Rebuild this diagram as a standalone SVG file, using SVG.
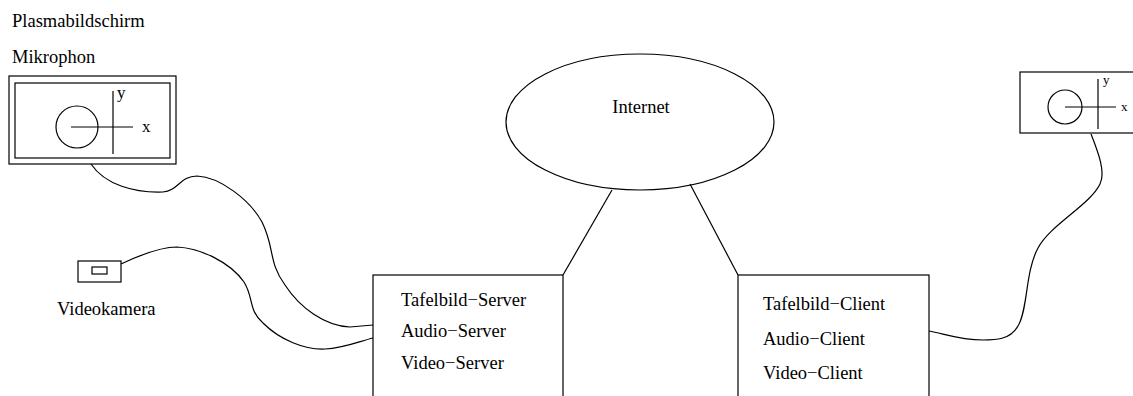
<svg xmlns="http://www.w3.org/2000/svg" width="1133" height="396" viewBox="0 0 1133 396">
<style>
.s{fill:none;stroke:#000;stroke-width:1.2}
.t{font-family:"Liberation Serif",serif;font-size:18.5px;fill:#000}
.sm{font-family:"Liberation Serif",serif;font-size:17px;fill:#000}
.xs{font-family:"Liberation Serif",serif;font-size:13px;fill:#000}
</style>
<rect width="1133" height="396" fill="#fff"/>
<g id="labels-top">
<text class="t" x="12" y="27">Plasmabildschirm</text>
<text class="t" x="12" y="63">Mikrophon</text>
</g>
<g id="monitor-left">
<rect class="s" x="9" y="76" width="167" height="88"/>
<rect class="s" x="15" y="83" width="155" height="75"/>
<circle class="s" cx="77" cy="127" r="21"/>
<line class="s" x1="71" y1="127" x2="133" y2="127"/>
<line class="s" x1="113" y1="91" x2="113" y2="154"/>
<text class="sm" x="117" y="98">y</text>
<text class="sm" x="142" y="132">x</text>
</g>
<g id="camera">
<rect class="s" x="78" y="261" width="43" height="21"/>
<rect class="s" x="92" y="267" width="15" height="7"/>
<text class="t" x="57" y="315">Videokamera</text>
</g>
<g id="internet">
<ellipse class="s" cx="640" cy="122" rx="134" ry="68"/>
<text class="t" x="641" y="113" text-anchor="middle">Internet</text>
</g>
<g id="server">
<rect class="s" x="373" y="275" width="190" height="130"/>
<text class="t" x="401" y="306">Tafelbild−Server</text>
<text class="t" x="401" y="337">Audio−Server</text>
<text class="t" x="401" y="369">Video−Server</text>
</g>
<g id="client">
<rect class="s" x="738" y="275" width="191" height="130"/>
<text class="t" x="763" y="310">Tafelbild−Client</text>
<text class="t" x="763" y="345">Audio−Client</text>
<text class="t" x="763" y="379">Video−Client</text>
</g>
<g id="monitor-right">
<rect class="s" x="1020" y="72" width="115" height="61"/>
<circle class="s" cx="1065" cy="107" r="17"/>
<line class="s" x1="1065" y1="107" x2="1116" y2="107"/>
<line class="s" x1="1098" y1="79" x2="1098" y2="129"/>
<text class="xs" x="1103" y="84">y</text>
<text class="xs" x="1121" y="111">x</text>
</g>
<g id="connectors">
<line class="s" x1="563" y1="275" x2="612" y2="190"/>
<line class="s" x1="690" y1="184" x2="738" y2="275"/>
<path class="s" d="M91,164 C105,185 135,193 163,192 C178,191 180,176 197,176 C220,177 250,200 262,222 C275,248 268,262 285,285 C300,308 325,326 350,327 L373,325"/>
<path class="s" d="M121,264 C140,255 160,247 177,247 C200,248 230,262 244,282 C254,298 248,310 263,323 C280,340 305,350 325,349 C345,348 360,341 373,338"/>
<path class="s" d="M1091,134 C1098,152 1106,172 1100,184 C1090,205 1050,225 1038,248 C1025,272 1028,310 1018,326 C1010,340 995,340 983,340 C960,340 945,334 929,331"/>
</g>
</svg>
